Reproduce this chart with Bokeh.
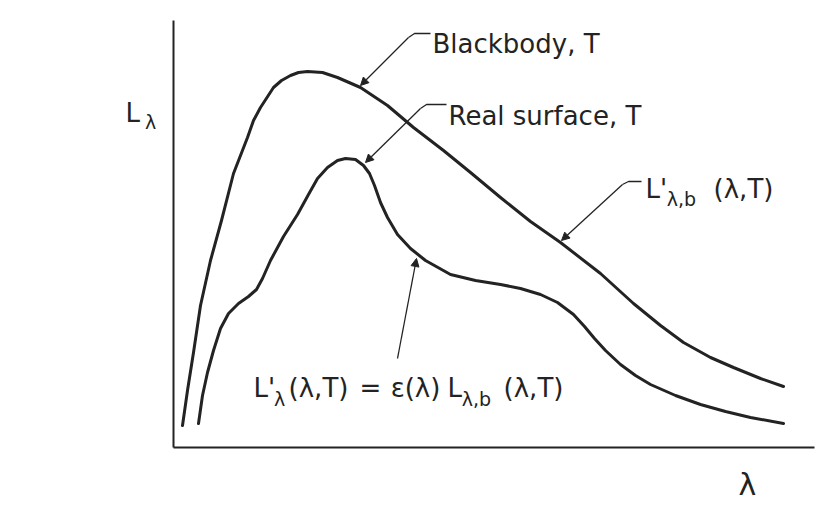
from bokeh.plotting import figure
from bokeh.models import Range1d, Label, Arrow, NormalHead, ColumnDataSource
from bokeh.embed import file_html
from bokeh.resources import INLINE

# ---- data (arbitrary units: wavelength, spectral radiance) ----
bb_lambda = [9, 14, 20, 27, 37, 48, 60, 74, 80, 87, 100, 108, 117, 125, 134, 149, 164, 187, 214,
             240, 270, 297, 327, 357, 387, 427, 460, 487, 510, 537, 560, 587, 610]
bb_L = [22, 57, 95, 142, 187, 227, 274, 310, 327, 340, 360, 367, 372, 375, 376, 375, 370, 360, 342,
        320, 297, 275, 250, 226, 205, 174, 144, 122, 105, 90, 80, 69, 61]

real_lambda = [25, 29, 34, 40, 47, 55, 65, 75, 83, 89, 97, 110, 124, 135, 144, 154, 164, 172,
               182, 190, 196, 201, 207, 214, 224, 237, 252, 277, 302, 327, 347, 367, 384, 400,
               411, 421, 432, 447, 462, 477, 502, 527, 552, 577, 610]
real_L = [24, 52, 75, 97, 119, 134, 144, 151, 158, 169, 187, 211, 233, 253, 269, 280, 287, 289,
          288, 282, 274, 262, 245, 230, 213, 199, 187, 173, 167, 163, 159, 153, 145, 133,
          121, 109, 97, 83, 72, 63, 52, 43, 36, 30, 24]

# axis extents (data units)
X_AXIS_END = 641
Y_AXIS_END = 427

# annotation leader lines (polylines, last point = start of arrow shaft)
leader_x = [[257, 241, 235], [273, 253, 247], [468, 455, 449]]
leader_y = [[414, 414, 410], [343, 343, 339], [266, 266, 263]]
arrow_x0 = [235, 247, 449, 224]
arrow_y0 = [410, 339, 263, 89]
arrow_x1 = [187, 192, 388, 243]
arrow_y1 = [362, 285, 207, 189]

INK = "#232323"
FONT = "DejaVu Sans"

p = figure(width=826, height=506, output_backend="svg", toolbar_location=None,
           x_range=Range1d(-173, 653), y_range=Range1d(-59, 447),
           x_axis_location=None, y_axis_location=None,
           min_border=0, min_border_left=0, min_border_right=0,
           min_border_top=0, min_border_bottom=0)
p.outline_line_color = None
p.grid.visible = False
p.background_fill_color = "white"
p.border_fill_color = "white"

# axis lines
p.segment(x0=[0, 0], y0=[0, 0], x1=[X_AXIS_END, 0], y1=[0, Y_AXIS_END],
          line_color=INK, line_width=2)

p.line(bb_lambda, bb_L, line_color=INK, line_width=3, line_join="round", line_cap="round")
p.line(real_lambda, real_L, line_color=INK, line_width=3, line_join="round", line_cap="round")

p.multi_line(leader_x, leader_y, line_color=INK, line_width=1.3)
src = ColumnDataSource(dict(x0=arrow_x0, y0=arrow_y0, x1=arrow_x1, y1=arrow_y1))
p.add_layout(Arrow(x_start="x0", y_start="y0", x_end="x1", y_end="y1", source=src,
                   line_color=INK, line_width=1.3,
                   end=NormalHead(size=8, fill_color=INK, line_color=INK, line_width=1)))

def lab(x, y, text, size, align="left"):
    p.add_layout(Label(x=x, y=y, text=text, text_font=FONT, text_font_size=f"{size}px",
                       text_color=INK, text_baseline="alphabetic", text_align=align))

TITLE = 26
MAIN = 26
SUB = 19

lab(259, 404, "Blackbody, T", TITLE)
lab(275, 332, "Real surface, T", TITLE)

# right-hand label L'_{λ,b}(λ,T)
lab(472, 259, "L'", MAIN)
lab(508, 249, "λ,b", SUB, "center")
lab(570, 259, "(λ,T)", MAIN, "center")

# formula L'_λ(λ,T) = ε(λ) L_{λ,b}(λ,T)
lab(80, 60, "L'", MAIN)
lab(106, 49, "λ", SUB, "center")
lab(145, 60, "(λ,T)", MAIN, "center")
lab(197, 60, "=", MAIN, "center")
lab(242, 60, "ε(λ)", MAIN, "center")
lab(274, 60, "L", MAIN)
lab(303, 49, "λ,b", SUB, "center")
lab(360, 60, "(λ,T)", MAIN, "center")

# axis labels
lab(-48, 335, "L", MAIN)
lab(-23, 326, "λ", SUB, "center")
lab(574, -37, "λ", 30, "center")

open("out.html", "w").write(file_html(p, INLINE))
